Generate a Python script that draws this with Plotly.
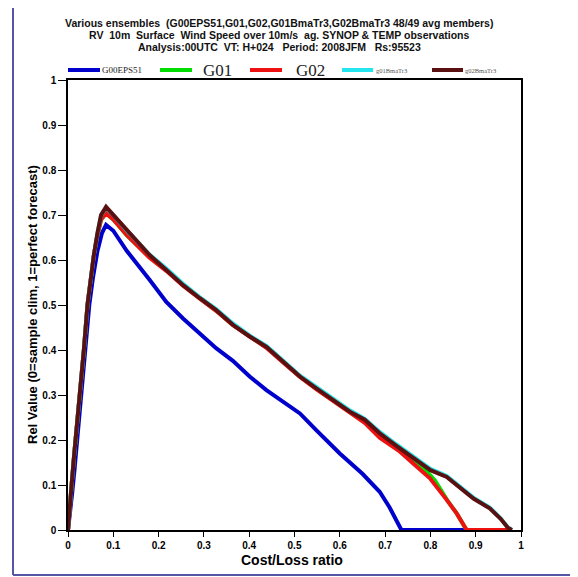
import plotly.graph_objects as go

# ---------------- data ----------------
blue_x = [0, 0.004, 0.009, 0.014, 0.02, 0.026, 0.032, 0.038, 0.047, 0.055, 0.065, 0.075, 0.084,
          0.1, 0.13, 0.18, 0.217, 0.254, 0.291, 0.327, 0.364, 0.401, 0.438, 0.475, 0.512, 0.548,
          0.6, 0.65, 0.688, 0.71, 0.736, 0.98]
blue_y = [0, 0.03, 0.08, 0.13, 0.2, 0.26, 0.32, 0.4, 0.5, 0.56, 0.62, 0.66, 0.678,
          0.665, 0.62, 0.556, 0.507, 0.47, 0.437, 0.404, 0.376, 0.341, 0.311, 0.285, 0.259, 0.222,
          0.17, 0.125, 0.085, 0.05, 0.0, 0.0]

g01_x = [0, 0.003, 0.008, 0.013, 0.018, 0.023, 0.028, 0.035, 0.043, 0.05, 0.057, 0.065, 0.073, 0.084,
         0.1, 0.13, 0.18, 0.217, 0.254, 0.291, 0.327, 0.364, 0.401, 0.438, 0.475, 0.512, 0.548,
         0.585, 0.622, 0.655, 0.688, 0.733, 0.762, 0.785, 0.81, 0.836, 0.858, 0.88, 0.98]
g01_y = [0, 0.03, 0.1, 0.16, 0.21, 0.26, 0.31, 0.4, 0.5, 0.56, 0.61, 0.655, 0.69, 0.703,
         0.69, 0.655, 0.607, 0.578, 0.545, 0.515, 0.488, 0.456, 0.43, 0.406, 0.374, 0.341, 0.314,
         0.288, 0.262, 0.24, 0.207, 0.178, 0.157, 0.138, 0.11, 0.068, 0.037, 0.0, 0.0]

g02_x = [0, 0.003, 0.008, 0.013, 0.018, 0.023, 0.028, 0.035, 0.043, 0.05, 0.057, 0.065, 0.073, 0.084,
         0.1, 0.13, 0.18, 0.217, 0.254, 0.291, 0.327, 0.364, 0.401, 0.438, 0.475, 0.512, 0.548,
         0.585, 0.622, 0.655, 0.688, 0.733, 0.762, 0.799, 0.836, 0.858, 0.88, 0.98]
g02_y = [0, 0.03, 0.1, 0.16, 0.21, 0.26, 0.31, 0.4, 0.5, 0.56, 0.61, 0.655, 0.69, 0.704,
         0.69, 0.655, 0.605, 0.576, 0.543, 0.514, 0.487, 0.455, 0.429, 0.405, 0.372, 0.34, 0.313,
         0.287, 0.261, 0.238, 0.205, 0.174, 0.148, 0.115, 0.067, 0.037, 0.0, 0.0]

g01b_x = [0, 0.003, 0.008, 0.013, 0.018, 0.023, 0.028, 0.035, 0.043, 0.05, 0.057, 0.065, 0.073, 0.084,
          0.1, 0.13, 0.18, 0.217, 0.254, 0.291, 0.327, 0.364, 0.401, 0.438, 0.475, 0.512, 0.548,
          0.585, 0.622, 0.655, 0.688, 0.725, 0.762, 0.8, 0.836, 0.865, 0.895, 0.931, 0.955, 0.971, 0.98]
g01b_y = [0, 0.03, 0.1, 0.16, 0.21, 0.26, 0.31, 0.4, 0.5, 0.56, 0.61, 0.66, 0.7, 0.716,
          0.7, 0.665, 0.612, 0.581, 0.547, 0.517, 0.491, 0.459, 0.432, 0.409, 0.377, 0.343, 0.318,
          0.292, 0.266, 0.247, 0.218, 0.19, 0.162, 0.136, 0.12, 0.097, 0.072, 0.05, 0.026, 0.006, 0.0]

g02b_x = [0, 0.003, 0.008, 0.013, 0.018, 0.023, 0.028, 0.035, 0.043, 0.05, 0.057, 0.065, 0.073, 0.084,
          0.1, 0.13, 0.18, 0.217, 0.254, 0.291, 0.327, 0.364, 0.401, 0.438, 0.475, 0.512, 0.548,
          0.585, 0.622, 0.655, 0.688, 0.725, 0.762, 0.8, 0.836, 0.865, 0.895, 0.931, 0.955, 0.971, 0.98]
g02b_y = [0, 0.03, 0.1, 0.16, 0.21, 0.26, 0.31, 0.4, 0.5, 0.56, 0.61, 0.66, 0.7, 0.718,
          0.7, 0.665, 0.611, 0.578, 0.544, 0.515, 0.489, 0.456, 0.43, 0.407, 0.374, 0.341, 0.315,
          0.289, 0.263, 0.245, 0.215, 0.187, 0.159, 0.133, 0.118, 0.095, 0.07, 0.048, 0.025, 0.005, 0.0]

series_names = ["G00EPS51", "G01", "G02", "g01BmaTr3", "g02BmaTr3"]
series_colors = ["#0000cc", "#00dd00", "#ee1111", "#22e5ee", "#5a1010"]
tick_vals = [0, 0.1, 0.2, 0.3, 0.4, 0.5, 0.6, 0.7, 0.8, 0.9, 1]
tick_text = ["0", "0.1", "0.2", "0.3", "0.4", "0.5", "0.6", "0.7", "0.8", "0.9", "1"]

title_lines = [
    "Various ensembles  (G00EPS51,G01,G02,G01BmaTr3,G02BmaTr3 48/49 avg members)",
    "RV  10m  Surface  Wind Speed over 10m/s  ag. SYNOP & TEMP observations",
    "Analysis:00UTC  VT: H+024   Period: 2008JFM   Rs:95523",
]

# ---------------- figure ----------------
fig = go.Figure()
all_x = [blue_x, g01_x, g02_x, g01b_x, g02b_x]
all_y = [blue_y, g01_y, g02_y, g01b_y, g02b_y]
for xs, ys, nm, col in zip(all_x, all_y, series_names, series_colors):
    fig.add_trace(go.Scatter(x=xs, y=ys, mode="lines", name=nm,
                             line=dict(color=col, width=4), showlegend=False))

OFF = 8  # page body offset
W, H = 570, 569
L, R, T, B = 60, 57, 72, 47
pw, ph = W - L - R, H - T - B


def px2x(px):
    return (px - OFF - L) / pw


def py2y(py):
    return (H - B - (py - OFF)) / ph


tickfont = dict(family="Liberation Sans Narrow, Arial Narrow, Liberation Sans", size=10,
                color="black", weight="bold")
axis_common = dict(range=[0, 1], tickvals=tick_vals, ticktext=tick_text, showgrid=False,
                   zeroline=False, showline=True, linecolor="black", linewidth=1.5,
                   mirror=True, ticks="outside", tickcolor="black", tickfont=tickfont)
fig.update_xaxes(**axis_common, ticklen=5, tickwidth=1)
fig.update_yaxes(**axis_common, ticklen=8, tickwidth=1)

annotations = []
# title (one annotation per line)
for line, ty in zip(title_lines, [23, 35, 47]):
    annotations.append(dict(text="<b>" + line + "</b>", x=px2x(279), y=py2y(ty),
                            xref="paper", yref="paper", xanchor="center", yanchor="middle",
                            showarrow=False, align="center",
                            font=dict(family="Liberation Sans", size=10.5, color="#111")))
# axis titles
annotations.append(dict(text="<b>Cost/Loss ratio</b>", x=px2x(292), y=py2y(560),
                        xref="paper", yref="paper", xanchor="center", yanchor="middle",
                        showarrow=False, font=dict(family="Liberation Sans", size=14, color="black")))
annotations.append(dict(text="<b>Rel Value (0=sample clim, 1=perfect forecast)</b>", x=px2x(32),
                        y=0.5, xref="paper", yref="paper", xanchor="center", yanchor="middle",
                        textangle=-90, showarrow=False,
                        font=dict(family="Liberation Sans", size=13, color="black")))

shapes = []
# legend
leg_y = py2y(70)
leg_lines = [(68, 100), (160, 192), (250, 282), (342, 373), (432, 463)]
leg_text_x = [100, 201, 294, 374, 463]
leg_sizes = [9, 17, 17, 6.5, 6.5]
leg_text_col = ["#222", "#222", "#222", "#555", "#555"]
for (x0, x1), tx, fs, tc, nm, col in zip(leg_lines, leg_text_x, leg_sizes, leg_text_col,
                                          series_names, series_colors):
    shapes.append(dict(type="line", xref="paper", yref="paper", x0=px2x(x0), x1=px2x(x1),
                       y0=leg_y, y1=leg_y, line=dict(color=col, width=4)))
    annotations.append(dict(text=nm, x=px2x(tx), y=leg_y, xref="paper", yref="paper",
                            xanchor="left", yanchor="middle", showarrow=False,
                            font=dict(family="Liberation Serif", size=fs, color=tc)))

# outer frame (left and bottom)
frame_col = "#5656a6"
shapes.append(dict(type="line", xref="paper", yref="paper", x0=px2x(13), x1=px2x(13),
                   y0=py2y(575), y1=py2y(0), line=dict(color=frame_col, width=2)))
shapes.append(dict(type="line", xref="paper", yref="paper", x0=px2x(13), x1=px2x(590),
                   y0=py2y(575), y1=py2y(575), line=dict(color=frame_col, width=2)))

fig.update_layout(width=W, height=H, margin=dict(l=L, r=R, t=T, b=B, pad=0),
                  plot_bgcolor="white", paper_bgcolor="white",
                  annotations=annotations, shapes=shapes, showlegend=False)

fig.write_html("out.html")
